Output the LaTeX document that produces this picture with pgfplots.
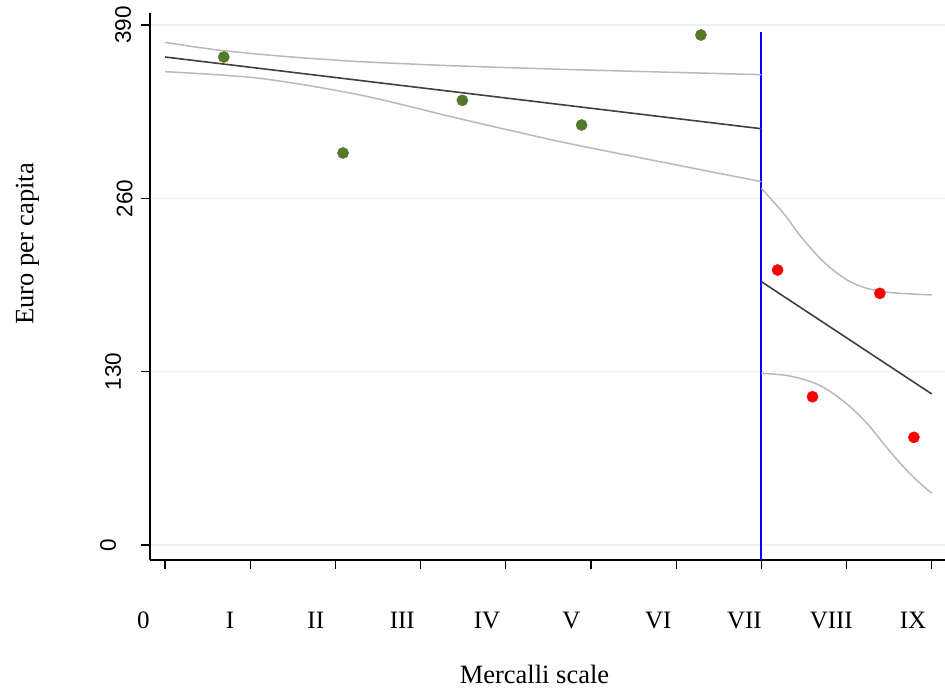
\documentclass[border=0pt]{standalone}
\usepackage{pgfplots}
\pgfplotsset{compat=1.18}
\usepackage{fontspec}
\setmainfont{Liberation Serif}
\newfontfamily\arialfont{Liberation Sans}
\definecolor{ptgreen}{RGB}{83,122,41}
\definecolor{gridc}{RGB}{234,242,243}
\definecolor{fitc}{RGB}{64,64,64}
\definecolor{cic}{RGB}{185,185,185}
\begin{document}
\begin{tikzpicture}
\begin{axis}[
  x=85.2bp, y=1.33333bp,
  xmin=-0.176, xmax=9.155, ymin=-11.25, ymax=399,
  axis x line=bottom, axis y line=left,
  axis line style={-, line width=1.1bp, black},
  tick align=outside, major tick length=9bp,
  every tick/.style={line width=1.1bp, black},
  xtick={0,...,9},
  xticklabels={\raisebox{9bp}{\llap{0\hspace{15.4bp}}},,,,,,,,,},
  xticklabel style={font=\fontsize{25bp}{30bp}\selectfont, anchor=base, yshift=-68bp},
  extra x ticks={0.763,1.77,2.785,3.78,4.77,5.79,6.8,7.82,8.78},
  extra x tick labels={I,II,III,IV,V,VI,VII,VIII,IX},
  extra x tick style={grid=none, major tick length=0pt},
  ytick={0,130,260,390},
  yticklabels={\raisebox{25bp}{0},\raisebox{20bp}{130},\raisebox{8.5bp}{260},\raisebox{10bp}{390}},
  ymajorgrids, grid style={gridc, line width=1.1bp},
  yticklabel style={font=\arialfont\fontsize{22.5bp}{27bp}\selectfont, rotate=90, anchor=base, inner sep=0pt},
  xlabel={Mercalli scale},
  xlabel style={at={(axis description cs:0.4836,-0.2249)}, anchor=base, font=\fontsize{26.5bp}{32bp}\selectfont},
  ylabel={Euro per capita},
  ylabel style={at={(axis description cs:-0.1468,0.5777)}, anchor=base, rotate=0, font=\fontsize{26.5bp}{32bp}\selectfont},
  clip=false,
]
% vertical threshold line
\addplot[blue, line width=2bp] coordinates {(7,-11.25) (7,385)};
% left CI
\addplot[cic, line width=1.5bp, smooth] coordinates {
 (0,377) (0.528,372) (1.115,368) (1.70,365) (2.29,362.5) (2.88,360.75) (3.46,359.25) (4.64,356.8) (5.81,354.75) (7,352.75)};
\addplot[cic, line width=1.5bp, smooth] coordinates {
 (0,355) (1.115,350) (2.29,337.5) (3.46,319.7) (4.64,302.5) (5.81,287.5) (7,272.5)};
% left fit
\addplot[fitc, line width=1.6bp] coordinates {(0,366) (7,312.2)};
% right CI
\addplot[cic, line width=1.5bp, smooth] coordinates {
 (7,267.5) (7.26,248.75) (7.45,232.5) (7.65,217.5) (7.84,206.25) (8.04,197.5) (8.24,192.5) (8.43,190) (8.63,188.75) (9,187.5)};
\addplot[cic, line width=1.5bp, smooth] coordinates {
 (7,128.75) (7.26,127.5) (7.45,125) (7.65,120.75) (7.84,113.75) (8.04,103.75) (8.24,91.25) (8.43,76.25) (8.63,61.25) (8.82,48.75) (9,38.75)};
% right fit
\addplot[fitc, line width=1.6bp] coordinates {(7,197.5) (9,113.25)};
% points
\addplot[only marks, mark=*, mark size=5.6bp, ptgreen, mark options={draw=ptgreen, fill=ptgreen}] coordinates {
 (0.69,366) (2.09,294) (3.49,333.5) (4.89,315) (6.29,382.5)};
\addplot[only marks, mark=*, mark size=5.6bp, red, mark options={draw=red, fill=red}] coordinates {
 (7.19,206.25) (7.60,111.2) (8.39,188.75) (8.79,80.75)};
\coordinate (O) at (rel axis cs:0,0);
\end{axis}
\pgfresetboundingbox
\path (O) ++(-150bp,-133bp) rectangle ++(945bp,693bp);
\end{tikzpicture}
\end{document}
